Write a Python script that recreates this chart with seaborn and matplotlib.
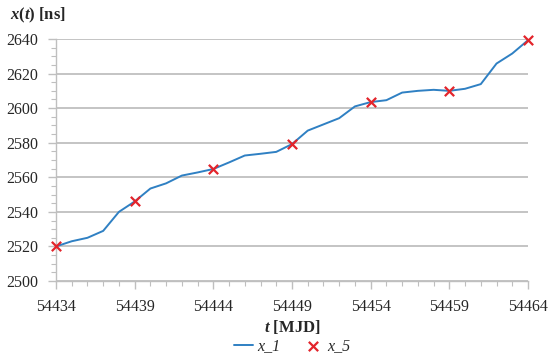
import numpy as np
import pandas as pd
import matplotlib
matplotlib.use("Agg")
import matplotlib.pyplot as plt
from matplotlib.ticker import MultipleLocator
import seaborn as sns

# daily series x_1 (MJD 54434 .. 54464)
mjd = list(range(54434, 54465))
x_1 = [2520.0, 2523.0, 2525.0, 2529.0, 2540.0, 2546.0, 2553.5, 2556.5, 2561.0, 2562.8,
       2564.8, 2568.6, 2572.6, 2573.6, 2574.7, 2579.2, 2587.0, 2590.6, 2594.2, 2601.0,
       2603.5, 2604.6, 2609.0, 2610.0, 2610.6, 2610.0, 2611.2, 2613.9, 2625.8, 2631.6,
       2639.3]

# every fifth day, x_5
mjd_5 = [54434, 54439, 54444, 54449, 54454, 54459, 54464]
x_5 = [2520.0, 2546.0, 2565.0, 2579.2, 2603.5, 2610.0, 2639.3]

d1 = pd.DataFrame({"t": mjd, "x": x_1})
d5 = pd.DataFrame({"t": mjd_5, "x": x_5})

sns.set_style("white")
plt.rcParams["font.family"] = ["Liberation Serif", "DejaVu Serif"]
plt.rcParams["mathtext.fontset"] = "custom"
plt.rcParams["mathtext.it"] = "Liberation Serif:italic:bold"
plt.rcParams["mathtext.rm"] = "Liberation Serif:bold"

fig = plt.figure(figsize=(5.5, 3.6), dpi=100)
ax = fig.add_axes([0.1018, 0.2194, 0.8582, 0.6723])

grid_c = "#bfbfbf"
sns.lineplot(data=d1, x="t", y="x", ax=ax, color="#2f80c3", linewidth=1.4, label="x_1", zorder=3)
sns.scatterplot(data=d5, x="t", y="x", ax=ax, marker="x", color="#e3242b", s=45,
                linewidth=1.6, label="x_5", zorder=4, clip_on=False)

ax.set_xlim(54434, 54464)
ax.set_ylim(2500, 2640)
ax.set_xticks(mjd_5)
ax.set_xticklabels([str(v) for v in mjd_5])
ax.xaxis.set_minor_locator(MultipleLocator(1))
ax.set_yticks(range(2500, 2641, 20))
ax.yaxis.set_minor_locator(MultipleLocator(5))
ax.grid(axis="y", color=grid_c, linewidth=1.3)
ax.set_axisbelow(True)

for s in ["top", "right"]:
    ax.spines[s].set_visible(False)
for s in ["left", "bottom"]:
    ax.spines[s].set_color(grid_c)
    ax.spines[s].set_linewidth(1.0)

ax.tick_params(which="major", length=6, color=grid_c, width=1.0, labelsize=11.5)
ax.tick_params(which="minor", length=3.5, color=grid_c, width=0.8)
ax.tick_params(axis="x", which="major", pad=7)
ax.tick_params(axis="y", which="major", pad=7)
ax.tick_params(axis="x", which="both", direction="out", bottom=True)
ax.tick_params(axis="y", which="both", direction="out", left=True)

ax.set_xlabel(r"$t$ [MJD]", fontsize=12, fontweight="bold", labelpad=2)
ax.set_ylabel("")
fig.text(0.018, 0.985, r"$x(t)$ [ns]", fontsize=12, fontweight="bold", va="top", ha="left")

leg = ax.legend(loc="upper center", bbox_to_anchor=(0.5, -0.19), ncol=2, frameon=False,
                prop={"style": "italic", "size": 11.5}, handlelength=1.2, handletextpad=0.3,
                columnspacing=1.4, borderpad=0.2)

fig.savefig("out.png", dpi=100)
